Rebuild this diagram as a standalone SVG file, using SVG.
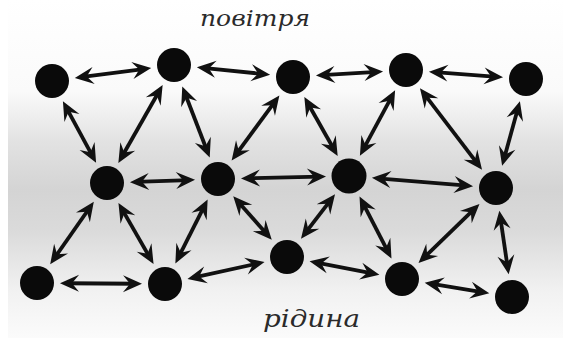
<svg xmlns="http://www.w3.org/2000/svg" width="563" height="338" viewBox="0 0 563 338">
<defs>
<linearGradient id="bg" x1="0" y1="0" x2="0" y2="1">
<stop offset="0" stop-color="#ffffff"/>
<stop offset="0.27" stop-color="#fafafa"/>
<stop offset="0.42" stop-color="#e2e2e2"/>
<stop offset="0.56" stop-color="#d4d4d4"/>
<stop offset="0.68" stop-color="#dadada"/>
<stop offset="0.86" stop-color="#f1f1f1"/>
<stop offset="1" stop-color="#fbfbfb"/>
</linearGradient>
<marker id="ah" viewBox="-15 -11 23 22" markerWidth="23" markerHeight="22" refX="0" refY="0" markerUnits="userSpaceOnUse" orient="auto-start-reverse">
<path d="M6,0 L-13,-8.5 L-6,0 L-13,8.5 Z" fill="#111"/>
</marker>
</defs>
<style>
.n{fill:#0a0a0a}
.e{stroke:#111;stroke-width:3.8;fill:none;marker-start:url(#ah);marker-end:url(#ah)}
.t{font-family:"DejaVu Serif","Liberation Serif",serif;font-style:italic;fill:#2a2a2a}
</style>
<rect x="0" y="0" width="563" height="338" fill="#ffffff"/>
<rect x="8" y="0" width="555" height="338" fill="url(#bg)"/>
<text class="t" x="200" y="26" font-size="23" textLength="110" lengthAdjust="spacingAndGlyphs">повітря</text>
<text class="t" x="263" y="327" font-size="25" textLength="97" lengthAdjust="spacingAndGlyphs">рідина</text>
<g id="connectors">
<path class="e" d="M80.75,77.23 L145.25,68.77"/>
<path class="e" d="M202.85,67.91 L264.15,74.09"/>
<path class="e" d="M321.94,75.21 L377.06,71.79"/>
<path class="e" d="M434.92,72.17 L497.08,76.83"/>
<path class="e" d="M65.76,106.53 L93.24,157.47"/>
<path class="e" d="M159.68,90.22 L121.32,157.78"/>
<path class="e" d="M184.44,92.05 L207.56,151.95"/>
<path class="e" d="M275.82,100.36 L235.18,155.64"/>
<path class="e" d="M307.28,102.24 L334.72,150.76"/>
<path class="e" d="M392.27,95.54 L362.73,150.46"/>
<path class="e" d="M423.59,93.06 L478.41,164.94"/>
<path class="e" d="M518.30,106.96 L503.70,160.04"/>
<path class="e" d="M135.98,181.96 L189.02,180.04"/>
<path class="e" d="M246.99,178.34 L320.01,176.66"/>
<path class="e" d="M377.90,178.36 L467.10,185.64"/>
<path class="e" d="M90.37,206.76 L53.63,259.24"/>
<path class="e" d="M121.44,208.15 L150.56,258.85"/>
<path class="e" d="M204.93,204.89 L178.07,258.11"/>
<path class="e" d="M237.22,200.72 L267.78,235.28"/>
<path class="e" d="M331.37,199.03 L304.63,233.97"/>
<path class="e" d="M362.27,201.79 L388.73,253.21"/>
<path class="e" d="M475.16,208.17 L422.84,258.83"/>
<path class="e" d="M500.21,216.69 L507.79,268.31"/>
<path class="e" d="M66,283.23 L136,283.77"/>
<path class="e" d="M193.32,277.73 L258.68,263.27"/>
<path class="e" d="M315.48,262.45 L373.52,273.55"/>
<path class="e" d="M430.62,283.68 L483.38,292.32"/>
</g>
<g id="A1"><circle class="n" cx="52" cy="81" r="17"/></g>
<g id="A2"><circle class="n" cx="174" cy="65" r="17"/></g>
<g id="A3"><circle class="n" cx="293" cy="77" r="17"/></g>
<g id="A4"><circle class="n" cx="406" cy="70" r="17"/></g>
<g id="A5"><circle class="n" cx="526" cy="79" r="17"/></g>
<g id="B1"><circle class="n" cx="107" cy="183" r="17"/></g>
<g id="B2"><circle class="n" cx="218" cy="179" r="17"/></g>
<g id="B3"><circle class="n" cx="349" cy="176" r="17.5"/></g>
<g id="B4"><circle class="n" cx="496" cy="188" r="17"/></g>
<g id="C1"><circle class="n" cx="37" cy="283" r="17"/></g>
<g id="C2"><circle class="n" cx="165" cy="284" r="17"/></g>
<g id="C3"><circle class="n" cx="287" cy="257" r="17"/></g>
<g id="C4"><circle class="n" cx="402" cy="279" r="17"/></g>
<g id="C5"><circle class="n" cx="512" cy="297" r="17"/></g>
</svg>
